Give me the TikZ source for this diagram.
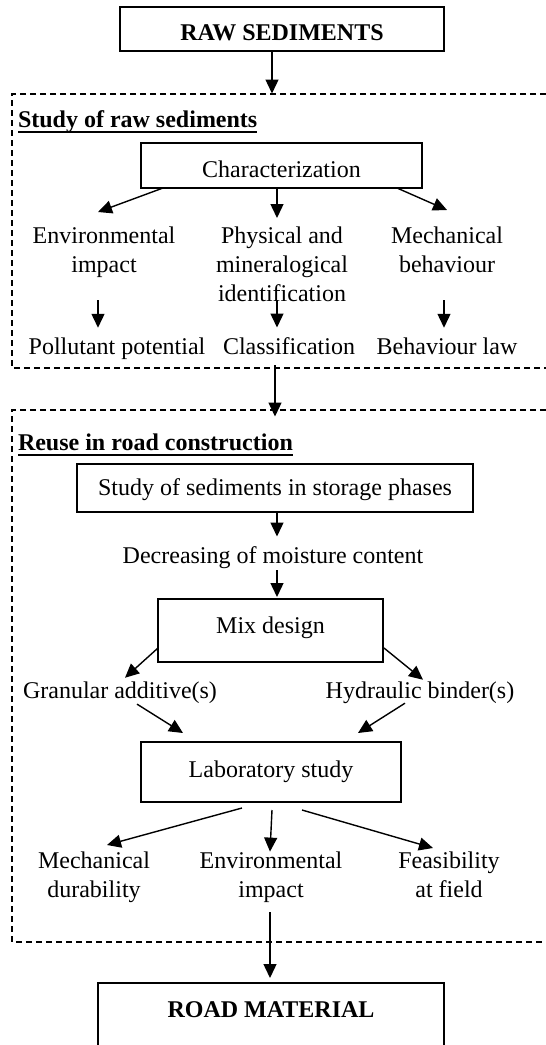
\documentclass[tikz,border=0pt]{standalone}
\usepackage{fontspec}
\setmainfont{Liberation Serif}
\usetikzlibrary{arrows.meta,calc}
\begin{document}
\begin{tikzpicture}[x=1pt,y=-1pt,
  every node/.style={inner sep=0pt,outer sep=0pt,font=\fontsize{24}{29}\selectfont},
  box/.style={draw,line width=1.7pt,anchor=base},
  lbl/.style={anchor=base},
  multi/.style={align=center,anchor=north},
  title/.style={anchor=base west,font=\fontsize{24}{29}\selectfont\bfseries},
  arr/.style={line width=1.4pt,-{Triangle[length=14pt,width=13pt]}},
  frame/.style={line width=1.4pt,dash pattern=on 6pt off 4pt},
  uline/.style={line width=2.2pt}]
\useasboundingbox (0,0) rectangle (546,1045);

% frames
\draw[frame] (546,94) -- (12,94) -- (12,368) -- (546,368);
\draw[frame] (546,410) -- (12,410) -- (12,942) -- (546,942);
\coordinate (f1top) at (272,93.5);
\coordinate (f2top) at (275,416.5);

% top box
\node[box,minimum width=324pt,text height=33pt,text depth=11pt,font=\fontsize{24}{29}\selectfont\bfseries] (raw) at (282,40) {RAW SEDIMENTS};

% section 1
\node[title] (t1) at (18,127) {Study of raw sediments};
\draw[uline] ($(t1.base west)+(0,5)$) -- ($(t1.base east)+(0,5)$);
\node[box,minimum width=281pt,text height=34pt,text depth=11pt] (char) at (281.5,177) {Characterization};
\node[multi] (env1) at (104,226.6) {Environmental\\impact};
\node[multi] (phys) at (282,226.6) {Physical and\\mineralogical\\identification};
\node[multi] (mech1) at (447,226.6) {Mechanical\\behaviour};
\node[lbl] (poll) at (117,354) {Pollutant potential};
\node[lbl] (class) at (289,354) {Classification};
\node[lbl] (law) at (447,354) {Behaviour law};

% section 2
\node[title] (t2) at (18,450) {Reuse in road construction};
\draw[uline] ($(t2.base west)+(0,5)$) -- ($(t2.base east)+(0,5)$);
\node[box,minimum width=396pt,text height=31pt,text depth=17pt] (store) at (275,495) {Study of sediments in storage phases};
\node[lbl] (decr) at (273,563) {Decreasing of moisture content};
\node[box,minimum width=225pt,text height=34pt,text depth=29pt] (mix) at (270.5,633) {Mix design};
\node[lbl] (gran) at (120,698) {Granular additive(s)};
\node[lbl] (hyd) at (420,698) {Hydraulic binder(s)};
\node[box,minimum width=260pt,text height=35pt,text depth=25pt] (lab) at (271,777) {Laboratory study};
\node[multi] (mech2) at (94,851.6) {Mechanical\\durability};
\node[multi] (env2) at (271,851.6) {Environmental\\impact};
\node[multi] (feas) at (449,851.6) {Feasibility\\at field};

% bottom box
\node[box,minimum width=346pt,text height=34pt,text depth=43pt,font=\fontsize{24}{29}\selectfont\bfseries] (road) at (271,1017) {ROAD MATERIAL};

% connectors
\draw[arr] ($(raw.south)+(-10,0)$) -- (f1top);
\draw[arr] ($(char.south)+(-118.5,0)$) -- ($(env1.north)+(-6,-14.6)$);
\draw[arr] ($(char.south)+(-4.5,0)$) -- ($(phys.north)+(-5,-8.6)$);
\draw[arr] ($(char.south)+(115.5,0)$) -- ($(mech1.north)+(0,-16.6)$);
\draw[arr] ($(env1.south)+(-6,22.8)$) -- ($(poll.north)+(-19,-9.6)$);
\draw[arr] ($(phys.south)+(-5,-1)$) -- ($(class.north)+(-12,-9.6)$);
\draw[arr] ($(mech1.south)+(-3,28)$) -- ($(law.north)+(-3,-9.6)$);
\draw[arr] ($(class.south)+(-14,11)$) -- (f2top);
\draw[arr] ($(store.south)+(2,0)$) -- ($(decr.north)+(4,-9.6)$);
\draw[arr] ($(decr.south)+(4,2)$) -- ($(mix.north)+(6.5,-2)$);
\draw[arr] ($(mix.south west)+(0,-14)$) -- ($(gran.north)+(5,-3.6)$);
\draw[arr] ($(mix.south east)+(1,-14)$) -- ($(hyd.north)+(3,-1.6)$);
\draw[arr] ($(gran.south)+(17,1)$) -- ($(lab.north)+(-88,-9)$);
\draw[arr] ($(hyd.south)+(-15,0)$) -- ($(lab.north)+(87,-9)$);
\draw[arr] ($(lab.south)+(-29,6)$) -- ($(mech2.north)+(13,-6.6)$);
\draw[arr] ($(lab.south)+(1,8)$) -- ($(env2.north)+(-1,0)$);
\draw[arr] ($(lab.south)+(31,8)$) -- ($(feas.north)+(-16,-3.6)$);
\draw[arr] ($(env2.south)+(-1,10)$) -- ($(road.north)+(-1,-5)$);
\end{tikzpicture}
\end{document}
